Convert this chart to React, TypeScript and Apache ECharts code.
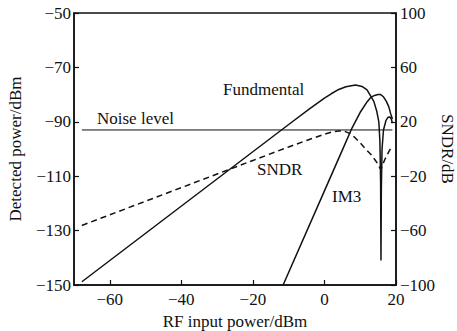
import React, { useEffect, useRef } from "react";
import * as echarts from "echarts";

const xTicks = [-60, -40, -20, 0, 20];
const leftTicks = [-150, -130, -110, -90, -70, -50];
const rightTicks = [-100, -60, -20, 20, 60, 100];

const fundX = [-67.8, -10, -4, 0, 2, 4, 6, 8.7, 10.5, 11.9, 12.9, 13.8, 14.6, 15.2, 15.5, 15.7, 15.8, 15.9, 16.1, 16.5, 17.2, 17.8, 18.3, 18.7, 19];
const fundY = [-148.8, -91, -85.1, -81.3, -79.6, -78.1, -77.1, -76.5, -77, -78.3, -80.5, -82.5, -86, -90, -97, -112, -141, -115, -100, -93, -89.5, -88.3, -88.2, -89, -90.5];

const im3X = [-11.55, 0, 5, 7.7, 10, 12, 13, 14, 15, 15.7, 16.5, 17.3, 18, 18.5, 19];
const im3Y = [-150, -115.4, -100.4, -92.3, -86.5, -82.5, -81, -80.3, -80, -80, -80.8, -82.5, -84.5, -87, -89];

const sndrX = [-67.8, -40, -20, -10, -5, -2, 0, 2, 4, 5.5, 7, 8.5, 10, 11.5, 13, 14, 14.8, 15.5, 15.8, 16.2, 17, 18, 18.8];
const sndrY = [-56.2, -28.4, -8.4, 1.5, 6.3, 9, 10.8, 12.4, 13.3, 13.2, 11.5, 8.5, 4.5, 0, -4, -7.5, -10.5, -14, -15, -12, -7, -2, 2];

const noiseX = [-67.8, 19];
const noiseY = [-93, -93];

const FONT = "'Liberation Serif', 'Times New Roman', serif";
const INK = "#111";

const fmt = (v: number) => String(v).replace("-", "\u2212");
const pairs = (xs: number[], ys: number[]) => xs.map((x, i) => [x, ys[i]]);

export default function App() {
  const ref = useRef<HTMLDivElement>(null);
  useEffect(() => {
    document.body.style.margin = "0";
    const chart = echarts.init(ref.current!, null, { renderer: "svg" });
    const labelStyle = { fontFamily: FONT, fontSize: 17, color: INK };
    const nameStyle = { fontFamily: FONT, fontSize: 17, color: INK };
    const txt = (text: string, left: number, top: number) => ({
      type: "text", left, top,
      style: { text, fontFamily: FONT, fontSize: 17, fill: INK },
    });
    chart.setOption({
      animation: false,
      backgroundColor: "#fff",
      grid: {
        left: 74, right: 61, top: 13, bottom: 46,
        containLabel: false, outerBoundsMode: "none",
        show: true, borderColor: INK, borderWidth: 1.5,
        backgroundColor: "transparent",
      },
      xAxis: {
        type: "value", min: -70, max: 20,
        axisLine: { show: true, onZero: false, lineStyle: { color: INK, width: 1.5 } },
        axisTick: { show: true, inside: true, length: 5, customValues: xTicks, lineStyle: { color: INK, width: 1.2 } },
        axisLabel: { ...labelStyle, customValues: xTicks, margin: 6, formatter: fmt },
        splitLine: { show: false },
        name: "RF input power/dBm", nameLocation: "middle", nameGap: 23,
        nameTextStyle: nameStyle,
      },
      yAxis: [
        {
          type: "value", min: -150, max: -50, position: "left",
          axisLine: { show: true, onZero: false, lineStyle: { color: INK, width: 1.5 } },
          axisTick: { show: true, inside: true, length: 5, customValues: leftTicks, lineStyle: { color: INK, width: 1.2 } },
          axisLabel: { ...labelStyle, customValues: leftTicks, margin: 3, formatter: fmt },
          splitLine: { show: false },
          name: "Detected power/dBm", nameLocation: "middle", nameRotate: 90, nameGap: 50,
          nameTextStyle: nameStyle,
        },
        {
          type: "value", min: -100, max: 100, position: "right",
          axisLine: { show: true, onZero: false, lineStyle: { color: INK, width: 1.5 } },
          axisTick: { show: true, inside: true, length: 5, customValues: rightTicks, lineStyle: { color: INK, width: 1.2 } },
          axisLabel: { ...labelStyle, customValues: rightTicks, margin: 4, formatter: fmt },
          splitLine: { show: false },
        },
      ],
      series: [
        {
          type: "line", name: "Fundmental", yAxisIndex: 0, data: pairs(fundX, fundY),
          showSymbol: false, lineStyle: { color: INK, width: 1.5 },
        },
        {
          type: "line", name: "IM3", yAxisIndex: 0, data: pairs(im3X, im3Y),
          showSymbol: false, lineStyle: { color: INK, width: 1.5 },
        },
        {
          type: "line", name: "Noise level", yAxisIndex: 0, data: pairs(noiseX, noiseY),
          showSymbol: false, lineStyle: { color: INK, width: 1 },
        },
        {
          type: "line", name: "SNDR", yAxisIndex: 1, data: pairs(sndrX, sndrY),
          showSymbol: false, lineStyle: { color: INK, width: 1.5, type: [6, 4] },
        },
      ],
      graphic: [
        txt("Noise level", 97, 110),
        txt("Fundmental", 223, 81),
        txt("SNDR", 257, 161),
        txt("IM3", 332, 188),
        {
          type: "text", x: 447, y: 149, rotation: -Math.PI / 2,
          style: {
            text: "SNDR/dB", fontFamily: FONT, fontSize: 17, fill: INK,
            align: "center", verticalAlign: "middle",
          },
        },
      ],
    });
    return () => chart.dispose();
  }, []);
  return <div ref={ref} style={{ width: 457, height: 331 }} />;
}
